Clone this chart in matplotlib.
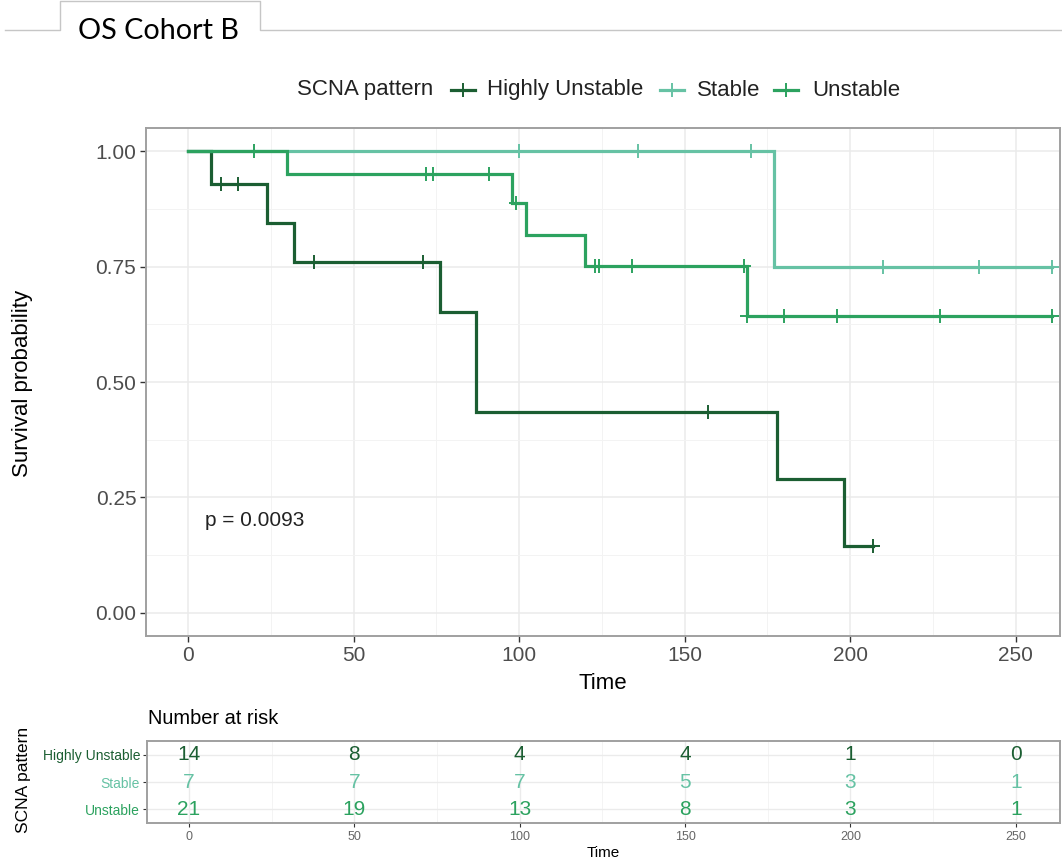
import numpy as np
import matplotlib
matplotlib.use("Agg")
import matplotlib.pyplot as plt
from matplotlib.lines import Line2D
from matplotlib.ticker import MultipleLocator

plt.rcParams["font.family"] = ["Liberation Sans", "DejaVu Sans"]

W, H = 1062, 864

GROUPS = ["Highly Unstable", "Stable", "Unstable"]
COLORS = ["#1B5E32", "#66C2A4", "#2CA25F"]

# follow-up times and status (1 = death, 0 = censored)
hu_time = [7, 10, 15, 24, 32, 38, 71, 76, 87, 87, 157, 178, 198, 207]
hu_event = [1, 0, 0, 1, 1, 0, 0, 1, 1, 1, 0, 1, 1, 0]
st_time = [100, 136, 170, 177, 210, 239, 261]
st_event = [0, 0, 0, 1, 0, 0, 0]
un_time = [20, 30, 72, 74, 91, 91, 98, 99, 102, 120, 123, 124, 134,
           168, 169, 169, 180, 196, 227, 227, 261]
un_event = [0, 1, 0, 0, 0, 0, 1, 0, 1, 1, 0, 0, 0,
            0, 1, 0, 0, 0, 0, 0, 0]

# number at risk table
risk_times = [0, 50, 100, 150, 200, 250]
hu_risk = [14, 8, 4, 4, 1, 0]
st_risk = [7, 7, 7, 5, 3, 1]
un_risk = [21, 19, 13, 8, 3, 1]

p_label = "p = 0.0093"


def km(times, events):
    t = np.asarray(times, float)
    e = np.asarray(events, int)
    xs, ys, s = [0.0], [1.0], 1.0
    for u in np.unique(t):
        n = (t >= u).sum()
        d = e[t == u].sum()
        if d:
            s *= 1 - d / n
        xs.append(u)
        ys.append(s)
    cens = sorted(set(t[e == 0]))
    cy = [ys[xs.index(c)] for c in cens]
    return xs, ys, cens, cy


def fx(x):
    return x / W


def fy(y):
    return 1 - y / H


fig = plt.figure(figsize=(W / 100, H / 100), dpi=100)

# header tab
tab_x = [5, 60, 60, 260, 260, W]
tab_y = [30, 30, 1, 1, 30, 30]
fig.add_artist(Line2D([fx(v) for v in tab_x], [fy(v) for v in tab_y],
                      transform=fig.transFigure, color="#c6c6c6", lw=1))
fig.text(fx(78), fy(31), "OS Cohort B", fontsize=20.7, family="Lato",
         va="center", ha="left", color="black")

XLIM = (-12.7, 263.4)

# survival curves
ax = fig.add_axes([fx(146), fy(636), (1060 - 146) / W, (636 - 128) / H])
curves = [(hu_time, hu_event), (st_time, st_event), (un_time, un_event)]
for (t, e), col in zip(curves, COLORS):
    xs, ys, cx, cy = km(t, e)
    ax.step(xs, ys, where="post", color=col, lw=2.3, solid_joinstyle="miter")
    ax.plot(cx, cy, ls="none", marker="+", ms=10, mew=1.4, color=col)

ax.set_xlim(*XLIM)
ax.set_ylim(-0.05, 1.05)
ax.xaxis.set_major_locator(MultipleLocator(50))
ax.xaxis.set_minor_locator(MultipleLocator(25))
ax.yaxis.set_major_locator(MultipleLocator(0.25))
ax.yaxis.set_minor_locator(MultipleLocator(0.125))
ax.set_yticklabels([f"{v:.2f}" for v in ax.get_yticks()])
ax.grid(which="major", color="#ebebeb", lw=1.1)
ax.grid(which="minor", color="#f3f3f3", lw=0.7)
ax.set_axisbelow(True)
ax.tick_params(which="minor", length=0)
ax.tick_params(which="major", length=4, width=1, color="#333333",
               labelsize=15, labelcolor="#4d4d4d", pad=3)
for sp in ax.spines.values():
    sp.set_color("#a0a0a0")
    sp.set_linewidth(1.4)
ax.set_xlabel("Time", fontsize=16, labelpad=6)
fig.text(fx(23), fy(383), "Survival probability", fontsize=16, rotation=90,
         ha="center", va="center")
ax.text(5, 0.2, p_label, fontsize=15, ha="left", va="center", color="#222222")

# legend row
fig.text(fx(297), fy(90), "SCNA pattern", fontsize=16, va="center",
         ha="left", color="#222222")
key_x = [463, 672, 786]
label_x = [487, 697, 812]
for kx, lx, name, col in zip(key_x, label_x, GROUPS, COLORS):
    fig.add_artist(Line2D([fx(kx - 12), fx(kx + 12)], [fy(90), fy(90)],
                          transform=fig.transFigure, color=col, lw=2.3))
    fig.add_artist(Line2D([fx(kx)], [fy(90)], transform=fig.transFigure,
                          color=col, marker="+", ms=10, mew=1.4, ls="none"))
    fig.text(fx(lx), fy(90), name, fontsize=16, va="center", ha="left",
             color="#222222")

# risk table
rt = fig.add_axes([fx(147), fy(823), (1060 - 147) / W, (823 - 741) / H])
rows = [hu_risk, st_risk, un_risk]
for i, (vals, col) in enumerate(zip(rows, COLORS)):
    yrow = 3 - i
    for tt, v in zip(risk_times, vals):
        rt.text(tt, yrow, str(v), color=col, fontsize=15, ha="center",
                va="center")
rt.set_xlim(*XLIM)
rt.set_ylim(0.5, 3.5)
rt.set_xticks(risk_times)
rt.xaxis.set_minor_locator(MultipleLocator(25))
rt.set_yticks([3, 2, 1])
rt.set_yticklabels(GROUPS)
for lab, col in zip(rt.get_yticklabels(), COLORS):
    lab.set_color(col)
rt.grid(which="major", color="#ebebeb", lw=1.0)
rt.grid(which="minor", axis="x", color="#f3f3f3", lw=0.6)
rt.set_axisbelow(True)
rt.tick_params(which="minor", length=0)
rt.tick_params(axis="x", which="major", length=3, color="#333333",
               labelsize=9, labelcolor="#666666", pad=3)
rt.tick_params(axis="y", which="major", length=3, color="#333333",
               labelsize=10, pad=2)
for sp in rt.spines.values():
    sp.set_color("#a0a0a0")
    sp.set_linewidth(1.4)
rt.set_xlabel("Time", fontsize=11, labelpad=2)
fig.text(fx(24), fy(780), "SCNA pattern", fontsize=12.5, rotation=90,
         ha="center", va="center")
fig.text(fx(148), fy(718), "Number at risk", fontsize=14.4, ha="left",
         va="center")

fig.savefig("out.png", dpi=100)
